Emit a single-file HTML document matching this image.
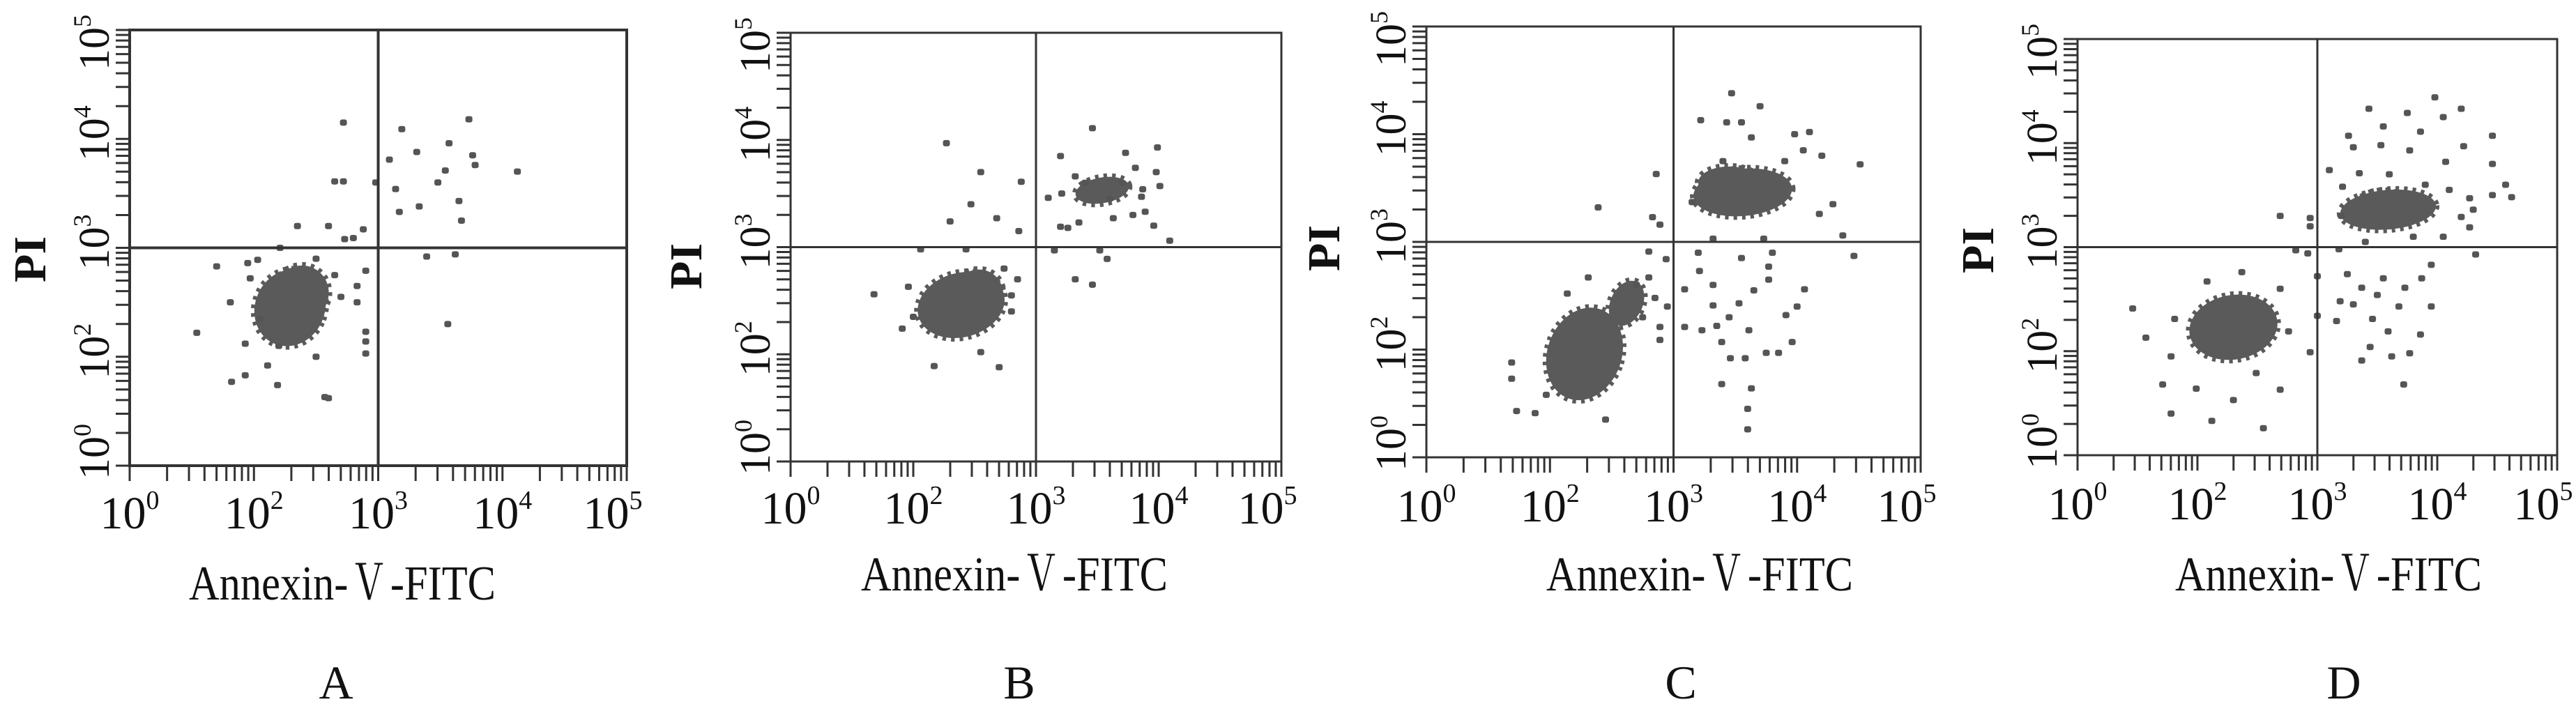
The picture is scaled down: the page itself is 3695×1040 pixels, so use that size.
<!DOCTYPE html>
<html><head><meta charset="utf-8">
<style>
html,body{margin:0;padding:0;background:#fff;}
svg{display:block;}
text{font-family:"Liberation Serif","Noto Serif CJK SC",serif;fill:#111;}
</style></head>
<body>
<svg id="fig" width="3695" height="1040" viewBox="0 0 3695 1040" xmlns="http://www.w3.org/2000/svg">
<rect width="3695" height="1040" fill="#fff"/>
</svg>
<script>
// ===== data (axis units: 0..4 across each log axis, decade steps) =====
const xTickLabels = ["0","2","3","4","5"];
const yTickLabels = ["0","2","3","4","5"];
const tickValues = [0,1,2,3,4];
const gateX = 2.0;
const gateY = 2.0;

// clusters: [cx, cy, rx, ry, rotationDeg]
const aClusters = [[1.29,1.45,0.28,0.36,25],[1.38,1.58,0.22,0.26,30]];
const aPoints = [[1.72,3.15],[1.65,2.61],[1.72,2.61],[1.98,2.60],[2.19,3.09],[2.73,3.18],[2.57,2.96],[2.31,2.88],[2.09,2.81],[2.76,2.85],[2.78,2.76],[3.12,2.70],[2.54,2.71],[2.48,2.60],[2.14,2.54],[2.33,2.38],[2.17,2.33],[2.65,2.43],[2.67,2.25],[2.39,1.92],[2.62,1.94],[2.56,1.30],[1.35,2.20],[1.60,2.20],[1.88,2.17],[1.80,2.09],[1.73,2.08],[1.21,2.00],[1.03,1.89],[0.70,1.83],[0.95,1.86],[0.97,1.72],[1.90,1.79],[1.83,1.65],[1.83,1.50],[0.81,1.50],[0.54,1.22],[0.93,1.12],[1.90,1.23],[1.90,1.14],[1.90,1.03],[1.50,1.00],[1.11,0.92],[0.82,0.77],[0.93,0.83],[1.19,0.74],[1.57,0.63],[1.60,0.62],[1.65,1.75],[1.70,1.55],[1.05,1.35],[1.20,1.10],[1.50,1.90]];

const bClusters = [[1.39,1.46,0.36,0.30,-15],[1.53,1.57,0.20,0.22,-20],[2.54,2.53,0.22,0.12,-10]];
const bPoints = [[2.46,3.11],[2.73,2.88],[2.99,2.93],[2.20,2.85],[2.32,2.66],[2.81,2.74],[2.98,2.70],[2.87,2.54],[3.01,2.57],[2.86,2.47],[2.63,2.27],[2.79,2.30],[2.89,2.33],[2.96,2.20],[3.09,2.06],[2.35,2.23],[2.20,2.19],[2.26,2.18],[2.10,2.46],[2.21,2.50],[2.15,1.97],[2.52,1.97],[2.58,1.89],[2.32,1.70],[2.46,1.65],[1.27,2.97],[1.55,2.70],[1.88,2.61],[1.47,2.40],[1.68,2.27],[1.30,2.24],[1.86,2.15],[1.06,1.98],[1.43,1.98],[0.68,1.56],[0.96,1.63],[0.91,1.24],[1.55,1.02],[1.17,0.89],[1.70,0.88],[1.74,1.80],[1.85,1.70],[1.80,1.55],[1.00,1.35],[1.80,1.40],[2.40,2.60],[2.60,2.45],[2.70,2.60]];

const cClusters = [[1.28,0.96,0.30,0.44,20],[1.62,1.43,0.13,0.22,25],[2.56,2.46,0.40,0.22,-5],[2.45,2.55,0.25,0.15,0]];
const cPoints = [[2.47,3.38],[2.70,3.26],[2.22,3.13],[2.43,3.11],[2.55,3.11],[2.63,2.97],[2.98,3.00],[3.10,3.02],[3.20,2.80],[3.51,2.72],[3.29,2.35],[3.18,2.26],[2.15,2.37],[1.86,2.63],[1.39,2.32],[1.83,2.23],[1.89,2.16],[2.32,2.03],[2.73,2.03],[3.37,2.06],[3.46,1.87],[1.80,1.91],[1.94,1.84],[1.80,1.67],[2.21,1.73],[2.32,1.60],[2.77,1.77],[2.77,1.65],[3.06,1.56],[1.85,1.48],[2.09,1.56],[1.95,1.40],[2.53,1.43],[2.32,1.41],[2.91,1.32],[1.89,1.21],[1.89,1.09],[2.09,1.21],[2.23,1.18],[2.35,1.22],[2.61,1.18],[2.39,1.07],[2.96,1.07],[2.46,0.92],[2.58,0.92],[2.75,0.97],[2.85,0.97],[2.39,0.68],[2.63,0.64],[2.60,0.45],[2.60,0.26],[1.31,1.67],[1.14,1.52],[0.69,0.88],[0.69,0.73],[0.73,0.43],[0.88,0.41],[1.45,0.35],[0.97,0.58],[2.90,2.75],[3.05,2.85],[2.40,2.75],[2.80,1.90],[2.55,1.85],[2.65,1.55],[3.00,1.40],[2.45,1.30],[2.20,1.90],[1.70,1.60],[1.75,1.30]];

const dClusters = [[1.30,1.23,0.37,0.31,-10],[2.59,2.36,0.40,0.19,-5],[2.55,2.40,0.22,0.14,0]];
const dPoints = [[2.43,3.33],[2.75,3.29],[2.98,3.44],[3.20,3.33],[3.05,3.25],[2.55,3.16],[2.86,3.11],[2.26,3.07],[2.30,2.96],[2.53,2.98],[2.77,2.93],[3.22,2.97],[3.46,3.07],[3.46,2.80],[3.07,2.82],[2.10,2.74],[2.35,2.71],[2.21,2.58],[3.57,2.60],[3.62,2.48],[3.46,2.50],[3.27,2.47],[3.30,2.36],[3.20,2.29],[3.27,2.19],[1.69,2.30],[1.94,2.28],[1.94,2.20],[1.82,1.97],[1.92,1.94],[2.18,1.98],[3.32,1.93],[2.00,1.72],[2.25,1.74],[2.37,1.61],[2.55,1.70],[2.73,1.61],[2.87,1.70],[2.95,1.83],[2.50,1.54],[2.19,1.48],[2.30,1.45],[2.68,1.43],[2.95,1.43],[2.00,1.34],[2.16,1.29],[2.46,1.31],[2.59,1.19],[2.86,1.16],[2.44,1.04],[2.62,0.95],[2.77,0.98],[2.37,0.91],[2.72,0.68],[1.94,0.99],[1.69,1.60],[0.46,1.41],[0.57,1.13],[0.81,1.31],[0.78,0.95],[0.71,0.68],[0.99,0.64],[0.78,0.40],[1.12,0.33],[1.30,0.53],[1.49,0.79],[1.69,0.63],[1.55,0.26],[1.08,1.67],[1.37,1.76],[1.76,1.19],[2.90,2.60],[3.10,2.55],[2.20,2.30],[2.60,2.70],[2.80,2.10],[2.40,2.05],[3.05,2.10]];

// ===== layout (geometry, not data) =====
const panels = [
 {id:"a", letter:"A", L:186, R:899, T:43, B:668, lab:758, ann:491, annY:860, pi:[43,372], letY:1002, letX:482, clusters:aClusters, points:aPoints, lw:4},
 {id:"b", letter:"B", L:1134, R:1838, T:47, B:662, lab:751, ann:1455, annY:847, pi:[984,382], letY:1002, letX:1462, clusters:bClusters, points:bPoints, lw:3},
 {id:"c", letter:"C", L:2046, R:2755, T:38, B:656, lab:748, ann:2438, annY:847, pi:[1899,356], letY:1002, letX:2411, clusters:cClusters, points:cPoints, lw:3},
 {id:"d", letter:"D", L:2980, R:3668, T:56, B:653, lab:745, ann:3340, annY:847, pi:[2837,359], letY:1002, letX:3362, clusters:dClusters, points:dPoints, lw:3}
];
const NS="http://www.w3.org/2000/svg";
const svg=document.getElementById('fig');
function mk(tag,attrs,parent){const e=document.createElementNS(NS,tag);for(const k in attrs)e.setAttribute(k,attrs[k]);(parent||svg).appendChild(e);return e;}

panels.forEach(p=>{
  const g=mk('g',{});
  
  
  const xs=u=>p.L+(p.R-p.L)*u/4;
  const ys=u=>p.B-(p.B-p.T)*u/4;
  const tg=mk('g',{stroke:'#333','stroke-width':3},g);
  
  
  for(let d=0;d<4;d++){for(let k=1;k<=9;k++){const u=d+Math.log10(k);
    mk('line',{x1:xs(u),x2:xs(u),y1:p.B,y2:p.B+22},tg);
    mk('line',{x1:p.L,x2:p.L-20,y1:ys(u),y2:ys(u)},tg);}}
  mk('line',{x1:xs(4),x2:xs(4),y1:p.B,y2:p.B+22},tg);
  mk('line',{x1:p.L,x2:p.L-20,y1:ys(4),y2:ys(4)},tg);
  p.clusters.forEach(c=>{
    const e=mk('ellipse',{cx:xs(c[0]),cy:ys(c[1]),rx:(p.R-p.L)*c[2]/4,ry:(p.B-p.T)*c[3]/4,fill:'#5a5a5a',stroke:'#5a5a5a','stroke-width':10,'stroke-dasharray':'5 7',transform:`rotate(${c[4]} ${xs(c[0])} ${ys(c[1])})`},g);
    
    
  });
  p.points.forEach(pt=>{
    const e=mk('rect',{x:xs(pt[0])-5,y:ys(pt[1])-4.5,width:10,height:9,rx:3,fill:'#555'},g);
    
    
  });
  const bx=mk('rect',{x:p.L,y:p.T,width:p.R-p.L,height:p.B-p.T,fill:'none',stroke:'#333','stroke-width':p.lw},g);
  
  
  const vl=mk('line',{x1:xs(gateX),x2:xs(gateX),y1:p.T,y2:p.B,stroke:'#333','stroke-width':p.lw},g);
  
  
  const hl=mk('line',{x1:p.L,x2:p.R,y1:ys(gateY),y2:ys(gateY),stroke:'#333','stroke-width':p.lw},g);
  
  
  tickValues.forEach((v,i)=>{
    let x=xs(v); if(i===4)x-=20;
    const t=mk('text',{x:x,y:p.lab,'font-size':66,'text-anchor':'middle'},g);
    
    
    t.appendChild(document.createTextNode('10'));
    const s=mk('tspan',{dy:-28,'font-size':38},t); s.textContent=xTickLabels[i];
  });
  tickValues.forEach((v,i)=>{
    let y=ys(v)-8; if(i===0)y=p.B-20; if(i===4)y=p.T+18;
    const gg=mk('g',{transform:`translate(${p.L-30},${y}) rotate(-90)`},g);
    const t=mk('text',{x:0,y:0,'font-size':62,'text-anchor':'middle'},gg);
    
    
    t.appendChild(document.createTextNode('10'));
    const s=mk('tspan',{dy:-26,'font-size':36},t); s.textContent=yTickLabels[i];
  });
  const xt=mk('text',{x:p.ann,y:p.annY,'font-size':70,'text-anchor':'middle',textLength:440,lengthAdjust:'spacingAndGlyphs'},g);
  
  
  xt.textContent='Annexin-Ⅴ-FITC';
  const pg=mk('g',{transform:`translate(${p.pi[0]+22},${p.pi[1]}) rotate(-90)`},g);
  const pt=mk('text',{x:0,y:0,'font-size':66,'font-weight':'bold','text-anchor':'middle'},pg);
  
  
  pt.textContent='PI';
  const lt=mk('text',{x:p.letX,y:p.letY,'font-size':68,'text-anchor':'middle'},g);
  
  
  lt.textContent=p.letter;
});
</script>
</body></html>
